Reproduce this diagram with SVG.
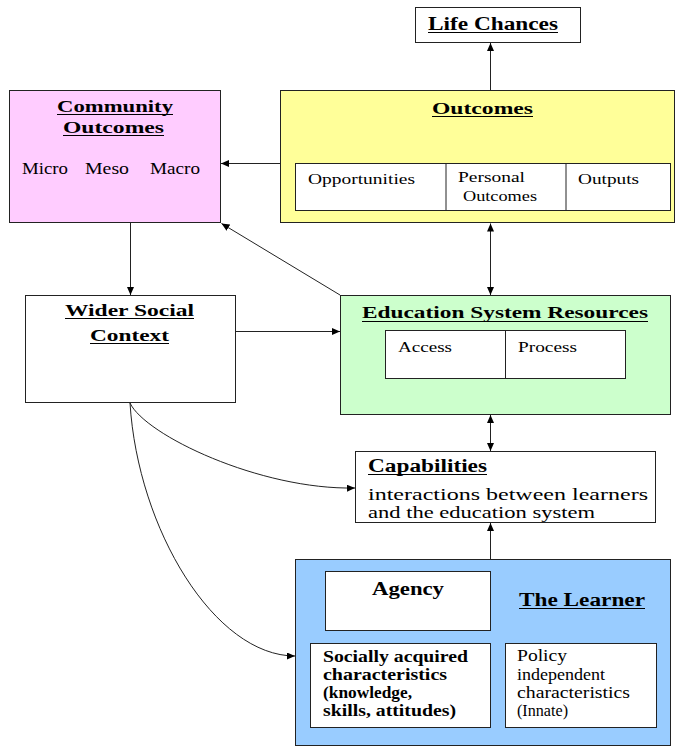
<svg xmlns="http://www.w3.org/2000/svg" width="676" height="747" viewBox="0 0 676 747" font-family="'Liberation Serif', 'DejaVu Serif', 'Times New Roman', serif">
<style>
.box{stroke:#222;stroke-width:1}
.w{fill:#fff}
text{font-family:'Liberation Serif','DejaVu Serif','Times New Roman',serif;fill:#000}
.b{font-weight:bold}
.c{fill:none;stroke:#222;stroke-width:1}
.ul{stroke:#000;stroke-width:1.2}
</style>
<defs>
<marker id="ah" markerUnits="userSpaceOnUse" markerWidth="9" markerHeight="8" refX="8" refY="3.5" orient="auto-start-reverse">
<path d="M0,0 L8,3.5 L0,7 z" fill="#000"/>
</marker>
</defs>
<rect width="676" height="747" fill="#fff"/>
<g id="life-chances">
<rect class="box w" x="415.5" y="7.5" width="165" height="35"/>
<text class="b" x="428" y="30" font-size="18" textLength="130" lengthAdjust="spacingAndGlyphs">Life Chances</text>
<line class="ul" x1="428" y1="32.5" x2="558" y2="32.5"/>
</g>
<g id="community-outcomes">
<rect class="box" fill="#FFCCFF" x="9.5" y="90.5" width="211" height="132"/>
<text class="b" x="57" y="112" font-size="16" textLength="116" lengthAdjust="spacingAndGlyphs">Community</text>
<line class="ul" x1="57" y1="114.5" x2="173" y2="114.5"/>
<text class="b" x="63" y="133" font-size="16" textLength="101" lengthAdjust="spacingAndGlyphs">Outcomes</text>
<line class="ul" x1="63" y1="135.5" x2="164" y2="135.5"/>
<text x="22" y="174" font-size="16" textLength="46" lengthAdjust="spacingAndGlyphs">Micro</text>
<text x="85" y="174" font-size="16" textLength="44" lengthAdjust="spacingAndGlyphs">Meso</text>
<text x="150" y="174" font-size="16" textLength="50" lengthAdjust="spacingAndGlyphs">Macro</text>
</g>
<g id="outcomes">
<rect class="box" fill="#FFFF99" x="280.5" y="90.5" width="394" height="132"/>
<text class="b" x="432" y="114" font-size="16" textLength="101" lengthAdjust="spacingAndGlyphs">Outcomes</text>
<line class="ul" x1="432" y1="116.5" x2="533" y2="116.5"/>
<rect class="box w" x="295.5" y="163.5" width="375" height="47"/>
<line class="c" x1="446" y1="163.5" x2="446" y2="210.5"/>
<line class="c" x1="566" y1="163.5" x2="566" y2="210.5"/>
<text x="308" y="184" font-size="15" textLength="107" lengthAdjust="spacingAndGlyphs">Opportunities</text>
<text x="458" y="182" font-size="15" textLength="67" lengthAdjust="spacingAndGlyphs">Personal</text>
<text x="463" y="201" font-size="15" textLength="74" lengthAdjust="spacingAndGlyphs">Outcomes</text>
<text x="578" y="184" font-size="15" textLength="61" lengthAdjust="spacingAndGlyphs">Outputs</text>
</g>
<g id="wider-social-context">
<rect class="box w" x="25.5" y="295.5" width="210" height="107"/>
<text class="b" x="65" y="316" font-size="17" textLength="129" lengthAdjust="spacingAndGlyphs">Wider Social</text>
<line class="ul" x1="65" y1="318.5" x2="194" y2="318.5"/>
<text class="b" x="90" y="341" font-size="17" textLength="79" lengthAdjust="spacingAndGlyphs">Context</text>
<line class="ul" x1="90" y1="343.5" x2="169" y2="343.5"/>
</g>
<g id="education-system-resources">
<rect class="box" fill="#CCFFCC" x="340.5" y="295.5" width="330" height="119"/>
<text class="b" x="362" y="318" font-size="17" textLength="286" lengthAdjust="spacingAndGlyphs">Education System Resources</text>
<line class="ul" x1="362" y1="321.5" x2="648" y2="321.5"/>
<rect class="box w" x="385.5" y="330.5" width="240" height="48"/>
<line class="c" x1="505.5" y1="330.5" x2="505.5" y2="378.5"/>
<text x="398" y="352" font-size="15" textLength="54" lengthAdjust="spacingAndGlyphs">Access</text>
<text x="518" y="352" font-size="15" textLength="59" lengthAdjust="spacingAndGlyphs">Process</text>
</g>
<g id="capabilities">
<rect class="box w" x="355.5" y="451.5" width="300" height="71"/>
<text class="b" x="368" y="472" font-size="18" textLength="119" lengthAdjust="spacingAndGlyphs">Capabilities</text>
<line class="ul" x1="368" y1="474.5" x2="487" y2="474.5"/>
<text x="368" y="500" font-size="17" textLength="280" lengthAdjust="spacingAndGlyphs">interactions between learners</text>
<text x="368" y="518" font-size="17" textLength="227" lengthAdjust="spacingAndGlyphs">and the education system</text>
</g>
<g id="the-learner">
<rect class="box" fill="#99CCFF" x="295.5" y="559.5" width="375" height="186"/>
<text class="b" x="519" y="606" font-size="18" textLength="126" lengthAdjust="spacingAndGlyphs">The Learner</text>
<line class="ul" x1="519" y1="608.5" x2="645" y2="608.5"/>
</g>
<g id="agency">
<rect class="box w" x="325.5" y="571.5" width="165" height="59"/>
<text class="b" x="372" y="595" font-size="18" textLength="72" lengthAdjust="spacingAndGlyphs">Agency</text>
</g>
<g id="socially-acquired">
<rect class="box w" x="310.5" y="643.5" width="180" height="84"/>
<text class="b" x="323" y="662" font-size="16" textLength="145" lengthAdjust="spacingAndGlyphs">Socially acquired</text>
<text class="b" x="323" y="680" font-size="16" textLength="124" lengthAdjust="spacingAndGlyphs">characteristics</text>
<text class="b" x="323" y="698" font-size="16" textLength="89" lengthAdjust="spacingAndGlyphs">(knowledge,</text>
<text class="b" x="323" y="716" font-size="16" textLength="133" lengthAdjust="spacingAndGlyphs">skills, attitudes)</text>
</g>
<g id="policy-independent">
<rect class="box w" x="505.5" y="643.5" width="151" height="84"/>
<text x="517" y="661" font-size="16" textLength="50" lengthAdjust="spacingAndGlyphs">Policy</text>
<text x="517" y="680" font-size="16" textLength="88" lengthAdjust="spacingAndGlyphs">independent</text>
<text x="517" y="698" font-size="16" textLength="113" lengthAdjust="spacingAndGlyphs">characteristics</text>
<text x="517" y="716" font-size="16" textLength="51" lengthAdjust="spacingAndGlyphs">(Innate)</text>
</g>
<g id="connectors">
<path class="c" d="M490.5,90 V43" marker-end="url(#ah)"/>
<path class="c" d="M280,163.5 H221" marker-end="url(#ah)"/>
<path class="c" d="M490.5,223.5 V295" marker-start="url(#ah)" marker-end="url(#ah)"/>
<path class="c" d="M340,295 L221.5,223.5" marker-end="url(#ah)"/>
<path class="c" d="M130.5,223 V295" marker-end="url(#ah)"/>
<path class="c" d="M236,331.5 H340" marker-end="url(#ah)"/>
<path class="c" d="M490.5,415 V451" marker-start="url(#ah)" marker-end="url(#ah)"/>
<path class="c" d="M490.5,559 V523" marker-end="url(#ah)"/>
<path class="c" d="M130,403 C145,435 260,490 355,488" marker-end="url(#ah)"/>
<path class="c" d="M130,403 C138,530 215,656 295,656" marker-end="url(#ah)"/>
</g>
</svg>
